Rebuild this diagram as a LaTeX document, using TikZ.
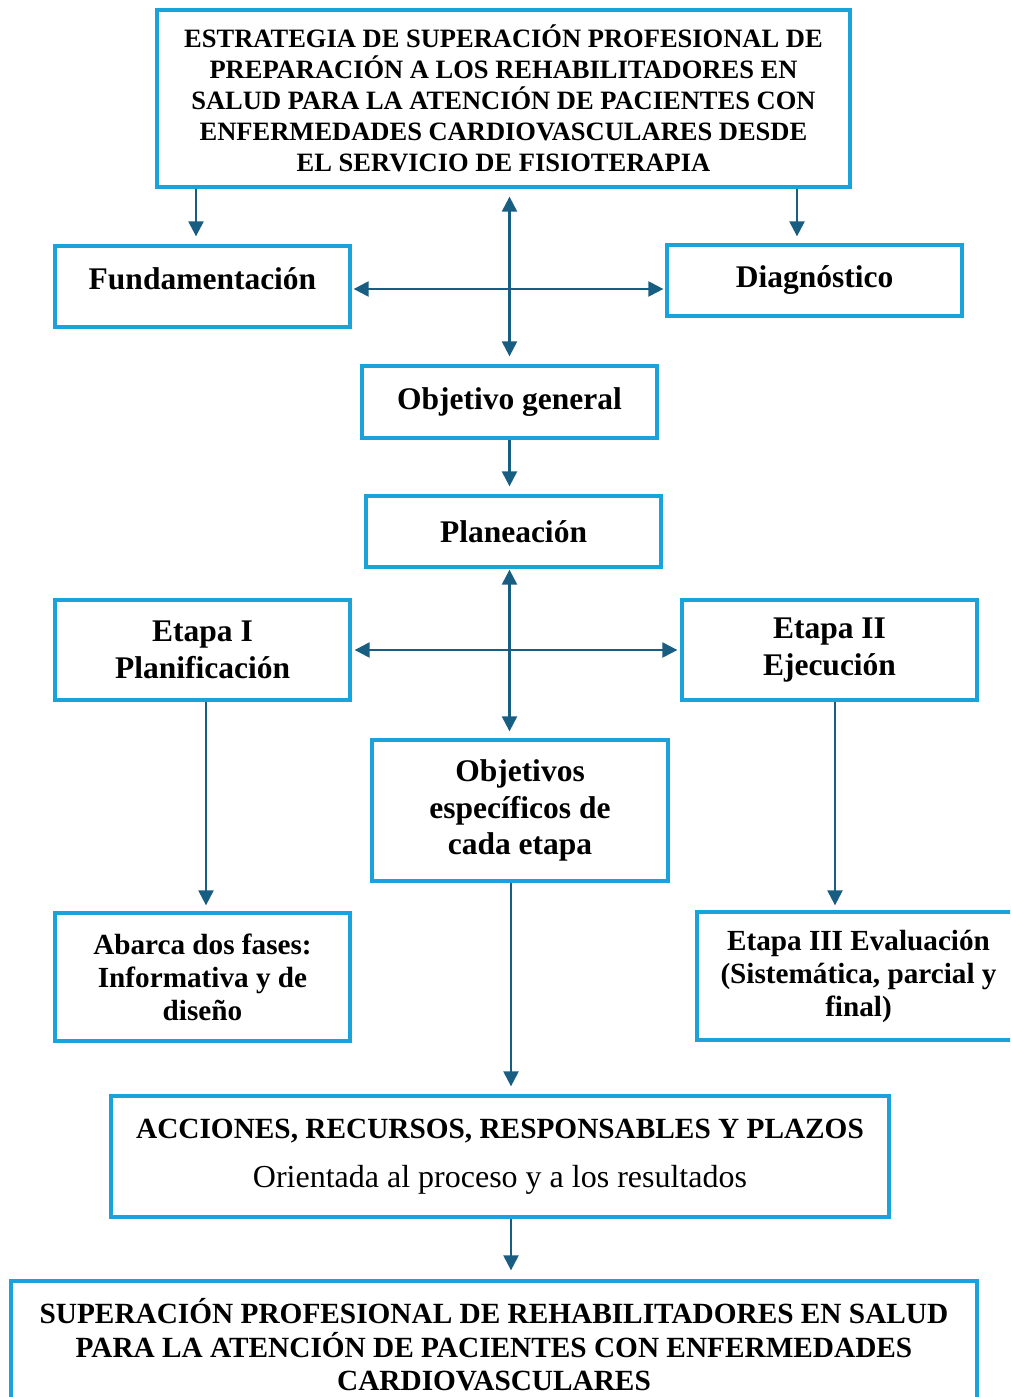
\documentclass[tikz,border=0pt]{standalone}
\usepackage{fontspec}
\setmainfont{Liberation Serif}
\usetikzlibrary{arrows.meta}
\definecolor{boxblue}{RGB}{26,163,218}
\definecolor{arrowblue}{RGB}{24,94,130}
\begin{document}
\begin{tikzpicture}[x=1pt,y=-1pt,
    box/.style={draw=boxblue,line width=3.3pt,align=center,inner sep=0pt,
      font=\bfseries\fontsize{31.5}{36.5}\selectfont},
    smallbox/.style={box,font=\bfseries\fontsize{29.2}{33}\selectfont},
    capsbox/.style={box,font=\bfseries\fontsize{29.3}{33.5}\selectfont},
    link/.style={draw=arrowblue,line width=2.3pt,-{Triangle[length=15pt,width=15pt]}},
    twoway/.style={link,{Triangle[length=15pt,width=15pt]}-{Triangle[length=15pt,width=15pt]}}]
  \clip (0,0) rectangle (1010,1397);
  \node[box,minimum width=693pt,minimum height=177pt,
    font=\bfseries\fontsize{26.5}{31}\selectfont] (top) at (503.5,98.5)
    {ESTRATEGIA DE SUPERACIÓN PROFESIONAL DE\\
     PREPARACIÓN A LOS REHABILITADORES EN\\
     SALUD PARA LA ATENCIÓN DE PACIENTES CON\\
     ENFERMEDADES CARDIOVASCULARES DESDE\\
     EL SERVICIO DE FISIOTERAPIA};
  \node[box,minimum width=295pt,minimum height=81pt,text depth=16pt] (fund) at (202.5,286.5) {Fundamentación};
  \node[box,minimum width=295pt,minimum height=71pt] (diag) at (814.5,280.5) {Diagnóstico};
  \node[box,minimum width=295pt,minimum height=72pt] (obj) at (509.5,402) {Objetivo general};
  \node[box,minimum width=295pt,minimum height=71pt] (plan) at (513.5,531.5) {Planeación};
  \node[box,minimum width=295pt,minimum height=100pt] (et1) at (202.5,650) {Etapa I\\Planificación};
  \node[box,minimum width=295pt,minimum height=100pt] (et2) at (829.5,650) {Etapa II\\Ejecución};
  \node[box,minimum width=296pt,minimum height=141pt] (objesp) at (520,810.5)
    {Objetivos\\específicos de\\cada etapa};
  \node[smallbox,minimum width=295pt,minimum height=128pt] (abarca) at (202.5,977)
    {Abarca dos fases:\\Informativa y de\\diseño};
  \node[smallbox,minimum width=323pt,minimum height=128pt] (et3) at (858.5,976)
    {Etapa III Evaluación\\(Sistemática, parcial y\\final)};
  \node[capsbox,minimum width=778pt,minimum height=121pt] (acc) at (500,1156.5)
    {ACCIONES, RECURSOS, RESPONSABLES Y PLAZOS\\[15pt]
     {\mdseries\fontsize{32}{34}\selectfont Orientada al proceso y a los resultados}};
  \node[capsbox,minimum width=966pt,minimum height=128pt] (fin) at (494,1345)
    {SUPERACIÓN PROFESIONAL DE REHABILITADORES EN SALUD\\
     PARA LA ATENCIÓN DE PACIENTES CON ENFERMEDADES\\
     CARDIOVASCULARES};
  \begin{scope}[link]
    \draw[shorten >=8pt] ([xshift=-6.5pt]fund.north |- top.south) -- ([xshift=-6.5pt]fund.north);
    \draw[shorten >=7pt] ([xshift=-17.5pt]diag.north |- top.south) -- ([xshift=-17.5pt]diag.north);
    \draw[shorten >=8pt] (obj.south) -- (obj.south |- plan.north);
    \draw[shorten >=6pt] ([xshift=3.5pt]et1.south) -- ([xshift=3.5pt]et1.south |- abarca.north);
    \draw[shorten >=5pt] ([xshift=5.5pt]et2.south) -- ([xshift=5.5pt]et2.south |- et3.north);
    \draw[shorten >=8pt] ([xshift=-9pt]objesp.south) -- ([xshift=-9pt]objesp.south |- acc.north);
    \draw[shorten >=9pt] ([xshift=11pt]acc.south) -- ([xshift=11pt]acc.south |- fin.north);
  \end{scope}
  \begin{scope}[twoway]
    \draw[shorten <=8pt,shorten >=8pt] (top.south -| obj) -- (obj.north);
    \draw[shorten <=2pt,shorten >=2pt] ([yshift=-2.5pt]fund.east) -- ([yshift=-2.5pt]fund.east -| diag.west);
    \draw[shorten <=1pt,shorten >=7pt] (plan.south -| obj) -- (objesp.north -| obj);
    \draw[shorten <=3pt,shorten >=3pt] (et1.east) -- (et2.west);
  \end{scope}
\end{tikzpicture}
\end{document}
